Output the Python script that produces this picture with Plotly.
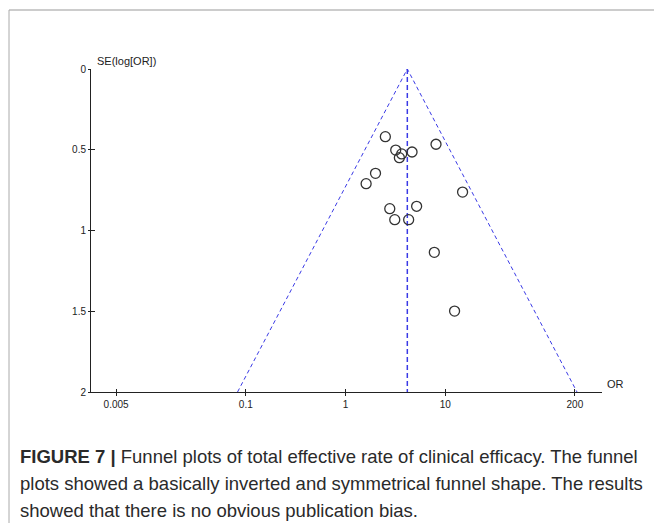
import plotly.graph_objects as go

# Study estimates
study_or = [2.51, 3.19, 3.66, 3.47, 4.65, 8.09, 2.00, 1.61, 14.94, 2.78, 5.17, 3.12, 4.30, 7.78, 12.42]
study_se = [0.419, 0.502, 0.526, 0.549, 0.514, 0.466, 0.646, 0.710, 0.762, 0.865, 0.850, 0.933, 0.933, 1.135, 1.499]

# Pooled estimate and funnel (pseudo 95% CI) limits
pooled_or = 4.17
funnel_or = [0.0826, 4.17, 210.0]
funnel_se = [2.0, 0.0, 2.0]
center_or = [4.17, 4.17]
center_se = [0.0, 2.0]

x_tickvals = [0.005, 0.1, 1, 10, 200]
x_ticktext = ["0.005", "0.1", "1", "10", "200"]
y_tickvals = [0, 0.5, 1, 1.5, 2]
y_ticktext = ["0", "0.5", "1", "1.5", "2"]

caption_lines = [
    "<b>FIGURE 7 |</b> Funnel plots of total effective rate of clinical efficacy. The funnel",
    "plots showed a basically inverted and symmetrical funnel shape. The results",
    "showed that there is no obvious publication bias.",
]

W, H = 654, 523
L, R, T, B = 91, 52, 69, 131
PW, PH = W - L - R, H - T - B

def px(x):
    return (x - L) / PW

def py(y):
    return (H - B - y) / PH

FUNNEL_COLOR = "#3a3ae6"

fig = go.Figure()
fig.add_trace(go.Scatter(x=funnel_or, y=funnel_se, mode="lines",
                         line=dict(color=FUNNEL_COLOR, width=1, dash="4px,3px"),
                         hoverinfo="skip", showlegend=False))
fig.add_trace(go.Scatter(x=center_or, y=center_se, mode="lines",
                         line=dict(color=FUNNEL_COLOR, width=1.5, dash="5px,3px"),
                         hoverinfo="skip", showlegend=False))
fig.add_trace(go.Scatter(x=study_or, y=study_se, mode="markers",
                         marker=dict(symbol="circle-open", size=10, color="#333333",
                                     line=dict(color="#333333", width=1.3)),
                         showlegend=False))
# overlay axes for inner half of crossing ticks
fig.add_trace(go.Scatter(x=[pooled_or], y=[0.0], xaxis="x2", yaxis="y2", mode="markers",
                         marker=dict(opacity=0), hoverinfo="skip", showlegend=False))

axis_font = dict(family="Liberation Sans, Arial, sans-serif", size=10, color="#222222")
label_font = dict(family="Liberation Sans, Arial, sans-serif", size=11, color="#222222")
xr = [-2.553, 2.573]
fig.update_layout(
    width=W, height=H,
    margin=dict(l=L, r=R, t=T, b=B),
    paper_bgcolor="white", plot_bgcolor="white",
    xaxis=dict(type="log", range=xr, tickmode="array", tickvals=x_tickvals, ticktext=x_ticktext,
               showgrid=False, zeroline=False, showline=True, linecolor="#222222", linewidth=1,
               ticks="outside", ticklen=3, tickcolor="#222222", tickfont=axis_font),
    yaxis=dict(range=[2, 0], tickmode="array", tickvals=y_tickvals, ticktext=y_ticktext,
               showgrid=False, zeroline=False, showline=True, linecolor="#222222", linewidth=1,
               ticks="outside", ticklen=2, tickcolor="#222222", tickfont=axis_font),
    xaxis2=dict(type="log", range=xr, overlaying="x", anchor="y2", side="bottom",
                tickmode="array", tickvals=x_tickvals, showticklabels=False,
                showgrid=False, zeroline=False, showline=False,
                ticks="inside", ticklen=3, tickcolor="#222222"),
    yaxis2=dict(range=[2, 0], overlaying="y", anchor="x2", side="left",
                tickmode="array", tickvals=y_tickvals, showticklabels=False,
                showgrid=False, zeroline=False, showline=False,
                ticks="inside", ticklen=4, tickcolor="#222222"),
    showlegend=False,
)

fig.add_annotation(x=px(95), y=py(61), xref="paper", yref="paper", text="SE(log[OR])",
                   showarrow=False, xanchor="left", yanchor="middle", font=label_font)
fig.add_annotation(x=px(605), y=py(384), xref="paper", yref="paper", text="OR",
                   showarrow=False, xanchor="left", yanchor="middle", font=label_font)

cap_font = dict(family="Liberation Sans, Arial, sans-serif", size=18.5, color="#2a2a2a")
for i, line in enumerate(caption_lines):
    fig.add_annotation(x=px(18), y=py(456 + 27 * i), xref="paper", yref="paper", text=line,
                       showarrow=False, xanchor="left", yanchor="middle", font=cap_font)

# figure frame (top and left edges)
fig.add_shape(type="line", xref="paper", yref="paper", x0=px(9), x1=px(654), y0=py(10), y1=py(10),
              line=dict(color="#cccccc", width=2))
fig.add_shape(type="line", xref="paper", yref="paper", x0=px(9), x1=px(9), y0=py(10), y1=py(523),
              line=dict(color="#aaaaaa", width=1))

fig.write_html("out.html", config={"displayModeBar": False},
               post_script="document.body.style.margin='0';document.body.style.overflow='hidden';")
